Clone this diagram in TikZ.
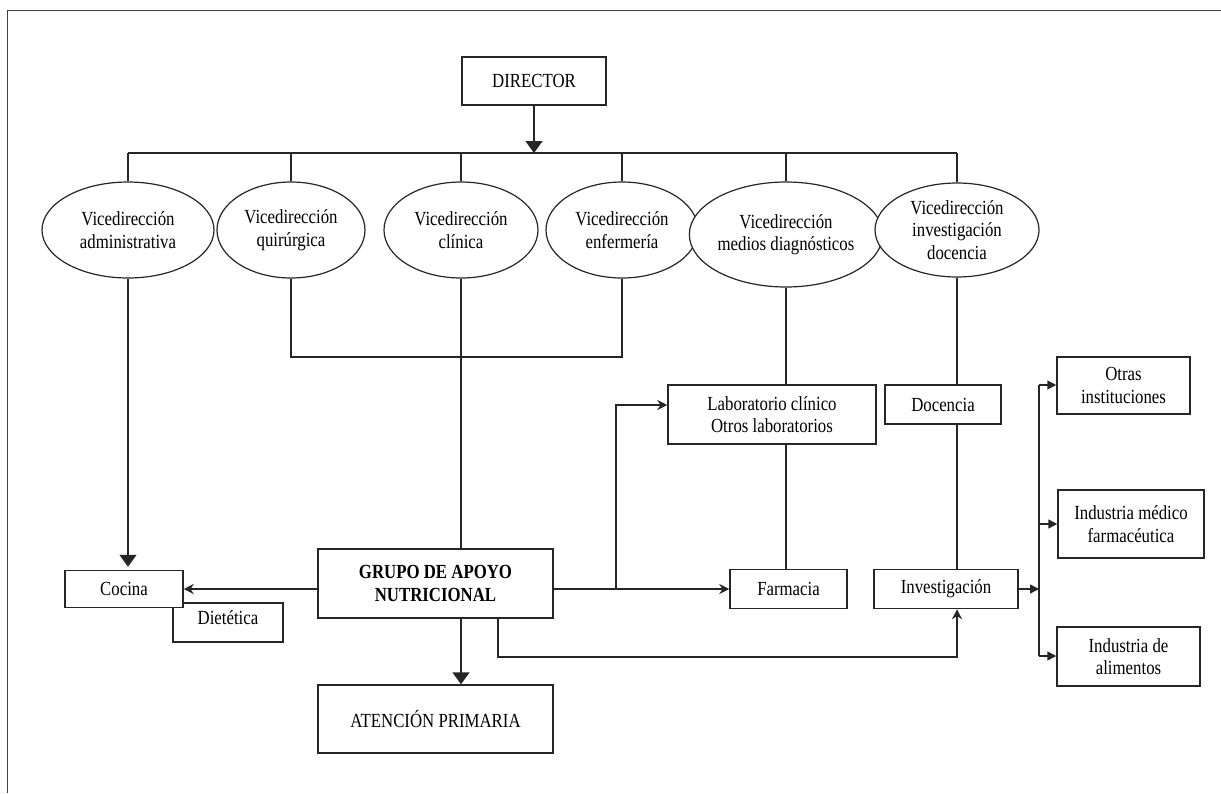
\documentclass[tikz,border=0pt]{standalone}
\usepackage{fontspec}
\setmainfont{Liberation Serif}[FakeStretch=0.84]
\usetikzlibrary{arrows.meta,shapes.geometric}
\begin{document}
\begin{tikzpicture}[x=1pt,y=-1pt,
  every node/.style={font=\fontsize{20}{22.5}\selectfont, text=black, align=center, inner sep=0pt},
  box/.style={draw=black!85, line width=1.5pt, fill=white},
  oval/.style={ellipse, draw=black!85, line width=1.2pt, fill=white},
  conn/.style={draw=black!85, line width=1.5pt},
  bigtip/.style={-{Triangle[width=17pt,length=12pt]}},
  smalltip/.style={-{Triangle[width=9pt,length=9pt]}},
  barbtip/.style={-{Stealth[width=10pt,length=10pt]}}]
\useasboundingbox (0,0) rectangle (1221,793);

% page frame (only top and left edges fall inside)
\draw[black!75, line width=1pt] (7,793) -- (7,10) -- (1221,10);

% top of the hierarchy
\node[box, minimum width=144pt, minimum height=48pt] (dir) at (534,81) {DIRECTOR};

\node[oval, minimum width=172pt, minimum height=96pt] (e1) at (128,230) {Vicedirección\\administrativa};
\node[oval, minimum width=148pt, minimum height=96pt] (e2) at (291,230) {Vicedirección\\quirúrgica};
\node[oval, minimum width=154pt, minimum height=96pt] (e3) at (461,230) {Vicedirección\\clínica};
\node[oval, minimum width=152pt, minimum height=96pt] (e4) at (622,230) {Vicedirección\\enfermería};
\node[oval, minimum width=160pt, minimum height=105pt] (e5) at (786,234.5) {Vicedirección\\medios diagnósticos};
\node[oval, minimum width=164pt, minimum height=94pt] (e6) at (957,230) {Vicedirección\\investigación\\docencia};

% distribution bus under the director
\coordinate (busL) at (128,153);
\coordinate (busR) at (957,153);
\coordinate (busC) at (534,153);
\draw[conn] (busL) -- (busR);
\draw[conn, bigtip] (dir.south) -- (busC);
\foreach \e in {e1,e2,e3,e4,e5,e6}
  \draw[conn] (\e.north) -- (\e.north |- busL);

% lower boxes
\node[box, minimum width=110pt, minimum height=39pt] (diet) at (228,622.5) {};
\node at (228,618) {Dietética};
\node[box, minimum width=118pt, minimum height=37pt] (cocina) at (124,589) {Cocina};
\node[box, minimum width=235pt, minimum height=69pt] (grupo) at (435.5,583.5) {\bfseries GRUPO DE APOYO\\\bfseries NUTRICIONAL};
\node[box, minimum width=235pt, minimum height=68pt] (aten) at (435.5,719) {ATENCIÓN PRIMARIA};
\node[box, minimum width=208pt, minimum height=59pt] (lab) at (772,414.5) {Laboratorio clínico\\Otros laboratorios};
\node[box, minimum width=117pt, minimum height=39pt] (farm) at (788.5,589) {Farmacia};
\node[box, minimum width=116pt, minimum height=39pt] (doc) at (943,404.5) {Docencia};
\node[box, minimum width=144pt, minimum height=39pt] (inv) at (946,589) {Investigación};
\node[box, minimum width=133pt, minimum height=57pt] (otras) at (1123.5,385.5) {Otras\\instituciones};
\node[box, minimum width=146pt, minimum height=68pt] (ind1) at (1131,524) {Industria médico\\farmacéutica};
\node[box, minimum width=143pt, minimum height=59pt] (ind2) at (1128.5,656.5) {Industria de\\alimentos};

% links from the vice-directions
\coordinate (join) at (0,357);
\draw[conn] (e2.south) -- (e2.south |- join) -- (e4.south |- join) -- (e4.south);
\draw[conn] (e3.south) -- (e3.south |- grupo.north);
\draw[conn, bigtip] (e1.south) -- ([yshift=3pt]e1.south |- cocina.north);
\draw[conn] (e5.south) -- (e5.south |- lab.north);
\draw[conn] (e5.south |- lab.south) -- (e5.south |- farm.north);
\draw[conn] (e6.south) -- (e6.south |- doc.north);
\draw[conn] (e6.south |- doc.south) -- (e6.south |- inv.north);

% links from the nutrition support group
\coordinate (fork) at (616,589);
\draw[conn, barbtip] (grupo.west |- cocina.east) -- (cocina.east);
\draw[conn, barbtip] (grupo.east |- farm.west) -- (farm.west);
\draw[conn, barbtip] (fork) |- ([yshift=9.5pt]lab.west);
\draw[conn, bigtip] (e3.south |- grupo.south) -- (e3.south |- aten.north);
\draw[conn, barbtip] ([xshift=62.5pt]grupo.south) -- ++(0,38) -| (e6.south |- inv.south);

% research outputs
\coordinate (rbT) at (1039,385);
\coordinate (rbB) at (1039,656);
\draw[conn] (rbT) -- (rbB);
\draw[conn, smalltip] (inv.east) -- (inv.east -| rbT);
\draw[conn, smalltip] (rbT) -- (otras.west |- rbT);
\draw[conn, smalltip] (rbT |- ind1.west) -- (ind1.west);
\draw[conn, smalltip] (rbB) -- (ind2.west |- rbB);
\end{tikzpicture}
\end{document}
